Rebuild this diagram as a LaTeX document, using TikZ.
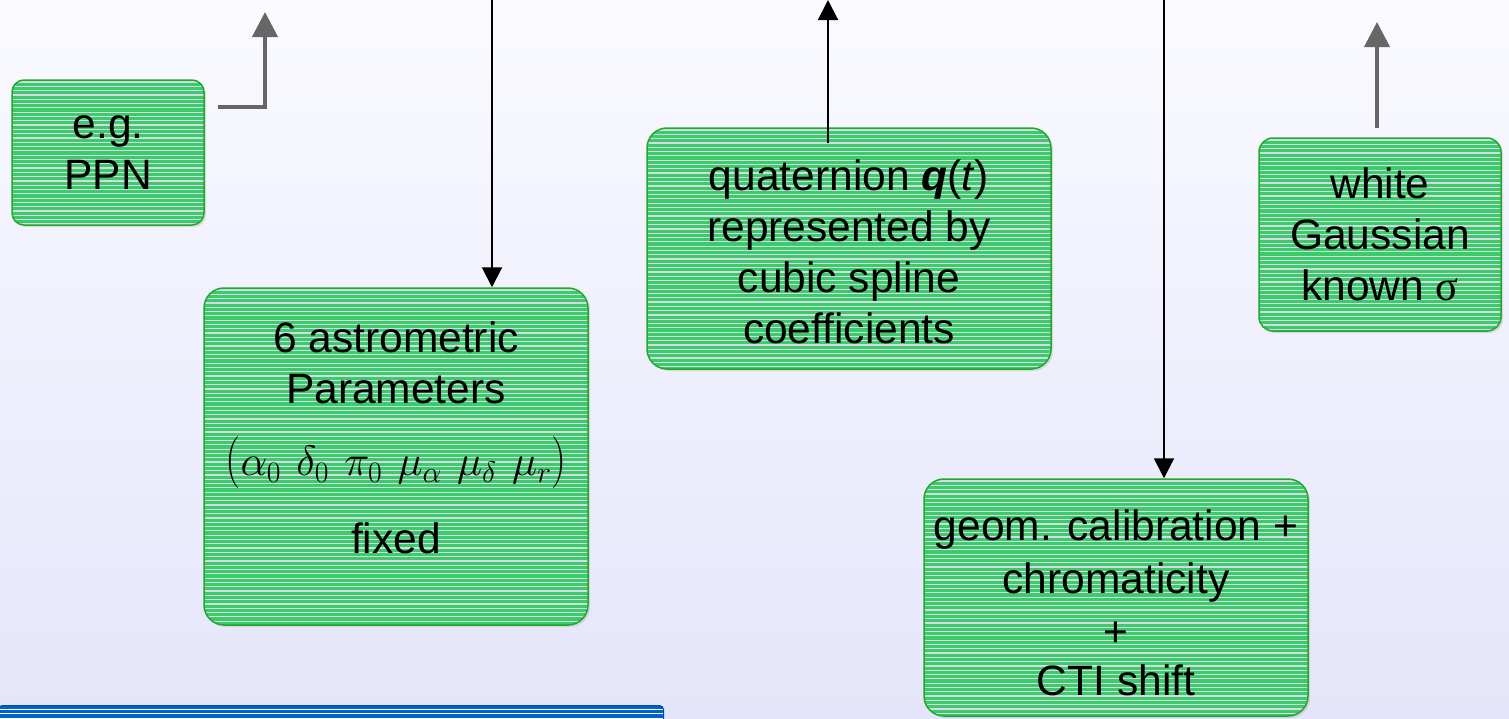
\RequirePackage{fix-cm}
\documentclass[tikz,border=0pt]{standalone}
\usepackage{fontspec}
\usepackage{graphicx}
\setmainfont{Liberation Sans}
\newfontfamily\serifgr{Liberation Serif}
\usetikzlibrary{arrows.meta,shadows}
\definecolor{bgtop}{HTML}{FAFAFF}
\definecolor{bgbot}{HTML}{E4E5FA}
\definecolor{boxgreen}{HTML}{3CCB6B}
\definecolor{boxedge}{HTML}{1FAA2A}
\definecolor{stripecol}{HTML}{D6D8E4}
\definecolor{barblue}{HTML}{0062CC}
\definecolor{arrgray}{HTML}{666666}
\newcommand{\gapm}{\mkern6.5mu}
\newcommand{\tallparen}[1]{\scalebox{1}[1.22]{$#1$}}
\begin{document}
\begin{tikzpicture}[x=1pt,y=-1pt,
  gbox/.style={draw=boxedge, line width=1.5pt, fill=boxgreen, inner sep=0pt,
    path picture={\foreach \k in {0,...,85}{\draw[stripecol, line width=1.2pt] ([yshift={-\k*4.3pt-2pt}]path picture bounding box.north west) -- ++(700pt,0);}},
    drop shadow={shadow xshift=2pt,shadow yshift=-2pt,fill=black!30,opacity=0.4}},
  txt/.style={align=center, inner sep=0pt, font=\fontsize{42.5}{51}\selectfont},
  blk/.style={line width=2pt, -{Triangle[length=20pt,width=20pt]}},
  gry/.style={draw=arrgray, line width=4pt, -{Triangle[length=25pt,width=25pt]}}
]
\useasboundingbox (0,0) rectangle (1509,718);
\shade[top color=bgtop, bottom color=bgbot] (0,0) rectangle (1509,718);

% boxes
\node[gbox, rounded corners=12pt, minimum width=192pt, minimum height=145pt] (ppn) at (108,152.5) {};
\node[txt] (ppnt) at (108,153) {e.g.\\PPN};

\node[gbox, rounded corners=20pt, minimum width=384pt, minimum height=337pt] (astro) at (396,456.5) {};
\node[txt] (astrot) at (396,438)
  {6 astrometric\\Parameters\\[21pt]$\tallparen{(}\alpha_0\gapm\delta_0\gapm\pi_0\gapm\mu_\alpha\gapm\mu_\delta\gapm\mu_r\tallparen{)}$\\[27pt]fixed};

\node[gbox, rounded corners=20pt, minimum width=404pt, minimum height=241pt] (quat) at (849,248.5) {};
\node[txt] (quatt) at (849,252)
  {quaternion \textbf{\textit{q}}(\textit{t})\\represented by\\cubic spline\\coefficients};

\node[gbox, rounded corners=14pt, minimum width=242pt, minimum height=193pt] (white) at (1380,234.5) {};
\node[txt] (whitet) at (1380,234.5) {white\\Gaussian\\known {\serifgr σ}};

\node[gbox, rounded corners=20pt, minimum width=384pt, minimum height=237pt] (geom) at (1116,597.5) {};
\node[txt, font=\fontsize{42.5}{53}\selectfont] (geomt) at (1116,602.5)
  {geom. calibration +\\chromaticity\\+\\[-4pt]CTI shift};

% blue bar at the bottom
\node[draw=barblue!80!black, line width=1pt, fill=barblue, rounded corners=4pt, minimum width=665pt, minimum height=24pt, inner sep=0pt, anchor=north west,
  path picture={\foreach \k in {1,2,3}{\draw[white, line width=1pt] ([yshift={-\k*4.2pt}]path picture bounding box.north west) -- ++(700pt,0);}}] (bar) at (-2,705) {};

% connectors
\coordinate (e0) at (218,107);
\coordinate (e1) at (265,12);
\draw[gry] (e0) -| (e1);

\coordinate (t1) at (492,0);
\draw[blk] (t1) -- (t1 |- astro.north);

\coordinate (q0) at (828,143);
\coordinate (t2) at (828,0);
\draw[blk] (q0) -- (t2);

\coordinate (t3) at (1164,0);
\draw[blk] (t3) -- (t3 |- geom.north);

\coordinate (w0) at (1377,128);
\coordinate (w1) at (1377,22);
\draw[gry] (w0) -- (w1);
\end{tikzpicture}
\end{document}
